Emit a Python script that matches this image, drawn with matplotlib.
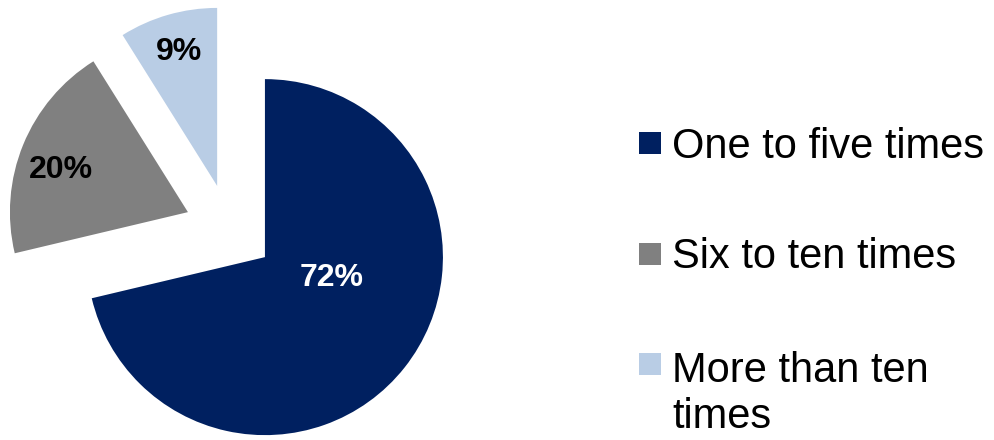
import math
import matplotlib
matplotlib.use('Agg')
import matplotlib.pyplot as plt
import matplotlib.patches as mpatches

categories = ['One to five times', 'Six to ten times', 'More than ten\ntimes']
values = [72, 20, 9]
pct_labels = ['72%', '20%', '9%']

colors = ['#002060', '#808080', '#B9CDE5']
label_colors = ['white', 'black', 'black']
# label placement per wedge: (fraction of radius from wedge apex, angle shift from bisector)
label_place = [(0.39, 21.0), (0.75, 4.0), (0.78, 0.0)]

W, H = 994, 440
fig = plt.figure(figsize=(W / 100, H / 100), dpi=100)
ax = fig.add_axes([0, 0, 1, 1])

radius = 178
center = (229.6, H - 229.2)
wedges, _ = ax.pie(values, colors=colors, startangle=90, counterclock=False,
                   radius=radius, center=center, explode=[0.253 * radius] * 3,
                   wedgeprops=dict(linewidth=0))
ax.set_xlim(0, W)
ax.set_ylim(0, H)
ax.set_aspect('equal')
ax.axis('off')

for w, txt, col, (frac, shift) in zip(wedges, pct_labels, label_colors, label_place):
    mid = math.radians((w.theta1 + w.theta2) / 2 + shift)
    cx, cy = w.center
    ax.text(cx + frac * radius * math.cos(mid), cy + frac * radius * math.sin(mid), txt,
            ha='center', va='center', color=col, fontsize=23, fontweight='bold',
            family=['Liberation Sans Narrow', 'Liberation Sans', 'DejaVu Sans'])

# legend drawn by hand so the wrapped entry keeps its marker on the first line
leg_x = 639
leg_y0 = H - 143
leg_step = 110.5
sq = 22
line_h = 30 / 72 * 100 * 1.17
for i, (lab, col) in enumerate(zip(categories, colors)):
    yc = leg_y0 - i * leg_step
    ax.add_patch(mpatches.Rectangle((leg_x, yc - sq / 2), sq, sq, color=col, lw=0))
    # baseline of a multiline text is its last line, so shift it down per extra line
    nlines = lab.count('\n')
    ax.text(leg_x + 33, yc - 15 - nlines * line_h, lab, ha='left', va='baseline',
            fontsize=30, family=['Liberation Sans', 'DejaVu Sans'], linespacing=1.17)

fig.savefig('out.png', dpi=100)
